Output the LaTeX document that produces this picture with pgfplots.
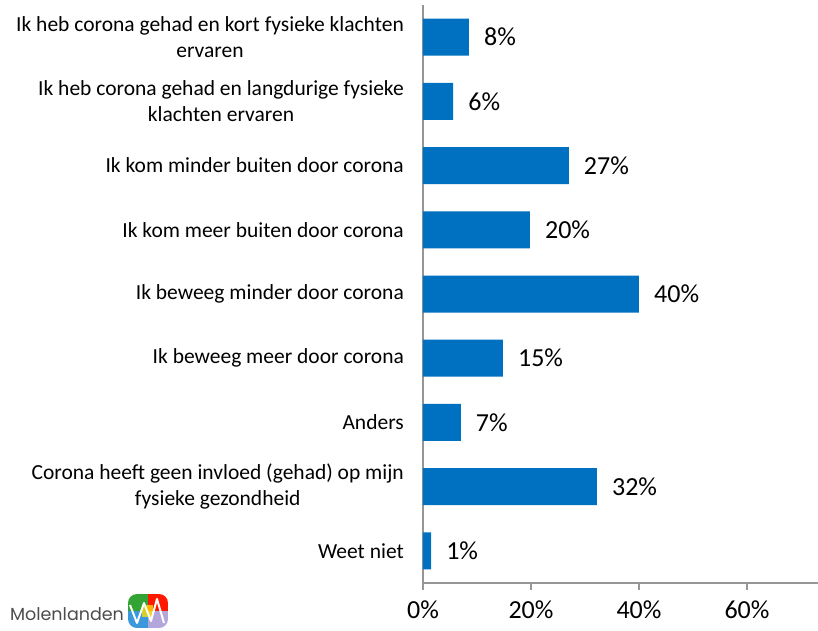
\documentclass[border=0pt]{standalone}
\usepackage{fontspec}
\setmainfont{Carlito}
\newfontfamily\logofont{Poppins}
\usepackage{pgfplots}
\pgfplotsset{compat=1.18}
\definecolor{barblue}{RGB}{0,112,192}
\definecolor{axgray}{RGB}{150,150,150}
\begin{document}
\begin{tikzpicture}
\useasboundingbox (-423pt,-47pt) rectangle (395pt,583pt);
\begin{axis}[
  at={(0pt,0pt)}, anchor=south west,
  scale only axis, width=395pt, height=578pt,
  xbar, bar width=37pt,
  xmin=0, xmax=73.15,
  ymin=-0.5, ymax=8.5, y dir=reverse,
  axis x line*=bottom, axis y line*=left,
  axis line style={draw=axgray, line width=1.2pt, -},
  xtick={0,20,40,60},
  xticklabel={\pgfmathprintnumber{\tick}\%},
  x tick label style={font=\fontsize{26}{30}\selectfont, text=black, inner sep=0pt, yshift=-11pt},
  /pgf/number format/assume math mode=true,
  tick align=outside,
  major tick length=7pt,
  x tick style={draw=axgray, line width=1.2pt},
  ytick={0,1,2,3,4,5,6,7,8},
  y tick style={draw=none},
  yticklabels={
    {Ik heb corona gehad en kort fysieke klachten\\ervaren},
    {Ik heb corona gehad en langdurige fysieke\\klachten ervaren},
    {Ik kom minder buiten door corona},
    {Ik kom meer buiten door corona},
    {Ik beweeg minder door corona},
    {Ik beweeg meer door corona},
    {Anders},
    {Corona heeft geen invloed (gehad) op mijn\\fysieke gezondheid},
    {Weet niet}},
  y tick label style={font=\fontsize{21.5}{26}\selectfont, align=center, text=black, anchor=east, inner sep=0pt, xshift=-12pt},
  point meta=explicit,
  nodes near coords={\pgfmathprintnumber{\pgfplotspointmeta}\%},
  nodes near coords style={font=\fontsize{26}{30}\selectfont, text=black, anchor=west, inner sep=0pt, xshift=15pt},
  clip=false,
]
\addplot[fill=barblue, draw=none] coordinates {
  (8.5,0) [8]
  (5.6,1) [6]
  (27.0,2) [27]
  (19.8,3) [20]
  (40.0,4) [40]
  (14.8,5) [15]
  (7.0,6) [7]
  (32.2,7) [32]
  (1.5,8) [1]
};
\end{axis}
% logo
\node[anchor=center, text=black!70, inner sep=0pt] at (-356pt,-31pt) {\logofont\fontsize{17.5}{20}\selectfont Molenlanden};
\begin{scope}
  \clip[rounded corners=9pt] (-295pt,-45pt) rectangle (-255pt,-11pt);
  \fill[green!55!black!80] (-295pt,-28pt) rectangle (-275pt,-11pt);
  \fill[red!80!orange] (-275pt,-28pt) rectangle (-255pt,-11pt);
  \fill[cyan!70!blue!80] (-295pt,-45pt) rectangle (-275pt,-28pt);
  \fill[magenta!50!cyan!60] (-275pt,-45pt) rectangle (-255pt,-28pt);
  \fill[yellow!80!orange, opacity=0.8] (-281pt,-34pt) rectangle (-270pt,-22pt);
  \draw[white, line width=2pt, line join=round] (-293pt,-22pt) -- (-286pt,-40pt) -- (-279pt,-20pt) -- (-272pt,-38pt) -- (-266pt,-16pt) -- (-259pt,-40pt);
\end{scope}
\end{tikzpicture}
\end{document}
